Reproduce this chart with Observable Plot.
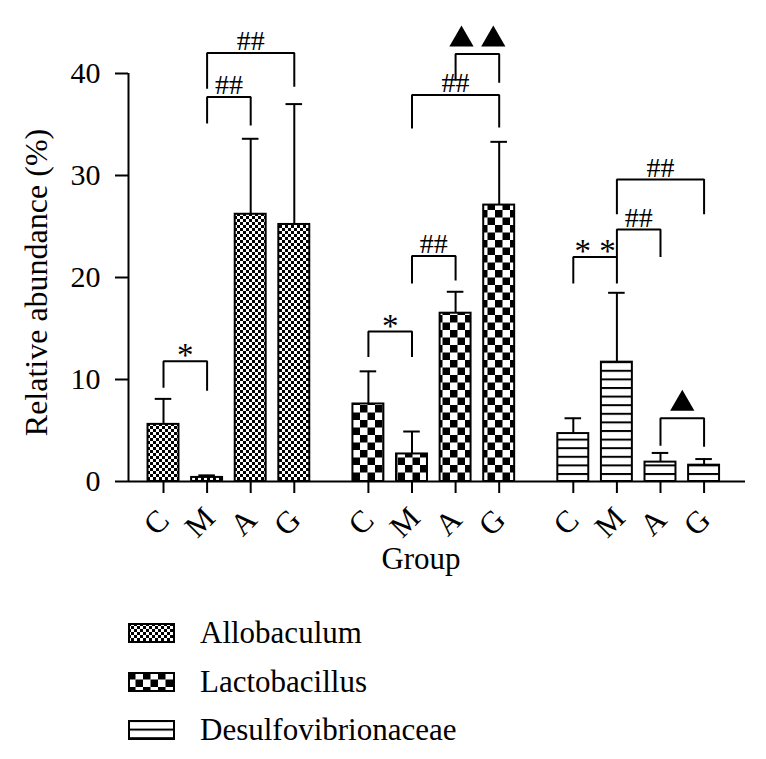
<!DOCTYPE html>
<html><head><meta charset="utf-8">
<script src="https://cdn.jsdelivr.net/npm/d3@7"></script>
<script src="https://cdn.jsdelivr.net/npm/@observablehq/plot@0.6"></script>
<style>
body{margin:0;background:#fff;font-family:"Liberation Serif",serif;}
#legend{position:relative;height:159px;width:766px;}
.sw{position:absolute;left:128px;width:47px;height:20px;}
.lt{position:absolute;left:200px;height:20px;line-height:20px;font-size:31px;color:#000;white-space:nowrap;}
</style></head><body>
<div id="chart"></div>
<div id="legend"></div>
<script>
// ---- data ----
const genera = ["Allobaculum", "Lactobacillus", "Desulfovibrionaceae"];
const groups = ["C", "M", "A", "G"];
const allobaculumMean = [5.6, 0.4, 26.2, 25.2];
const allobaculumSD = [2.5, 0.2, 7.4, 11.8];
const lactobacillusMean = [7.6, 2.7, 16.5, 27.1];
const lactobacillusSD = [3.2, 2.2, 2.1, 6.2];
const desulfoMean = [4.7, 11.7, 1.9, 1.6];
const desulfoSD = [1.5, 6.8, 0.9, 0.6];
const yTicks = [0, 10, 20, 30, 40];

// significance brackets
const bracketGenus = [0, 0, 0, 1, 1, 1, 1, 2, 2, 2, 2];
const bracketFrom = ["C", "M", "M", "C", "M", "M", "A", "C", "M", "M", "A"];
const bracketTo = ["M", "A", "G", "M", "A", "G", "G", "M", "A", "G", "G"];
const bracketTop = [11.8, 37.7, 42.0, 14.7, 22.1, 37.9, 41.9, 22.0, 24.7, 29.6, 6.2];
const bracketLeftEnd = [9.2, 35.1, 38.5, 12.2, 19.4, 34.6, 39.3, 19.4, 22.0, 26.2, 3.5];
const bracketRightEnd = [8.9, 34.9, 38.7, 12.2, 19.7, 34.7, 39.1, 19.4, 22.0, 26.2, 3.4];
const bracketLabel = ["*", "##", "##", "*", "##", "##", "▲▲", "* *", "##", "##", "▲"];

// ---- layout helpers ----
const groupStride = 4.7;
const pos = (g, i) => g * groupStride + i;
const xDomain = [-0.803, 13.35];
const means = [allobaculumMean, lactobacillusMean, desulfoMean];
const sds = [allobaculumSD, lactobacillusSD, desulfoSD];
const patIds = ["allo", "lacto", "desulfo"];

const bars = [];
genera.forEach((g, gi) => groups.forEach((grp, i) => bars.push({genus: g, gi, group: grp, pos: pos(gi, i), mean: means[gi][i], sd: sds[gi][i]})));

const brackets = bracketGenus.map((gi, k) => {
  const x1 = pos(gi, groups.indexOf(bracketFrom[k]));
  const x2 = pos(gi, groups.indexOf(bracketTo[k]));
  return {id: k, x1, x2, mid: (x1 + x2) / 2, top: bracketTop[k], l: bracketLeftEnd[k], r: bracketRightEnd[k], label: bracketLabel[k]};
});
const bracketPts = brackets.flatMap(b => [
  {id: b.id, x: b.x1, y: b.l}, {id: b.id, x: b.x1, y: b.top},
  {id: b.id, x: b.x2, y: b.top}, {id: b.id, x: b.x2, y: b.r}
]);
const triangles = brackets.filter(b => b.label.startsWith("▲")).flatMap(b => {
  const n = b.label.length;
  return d3.range(n).map(k => ({x: b.mid + (k - (n - 1) / 2) * 0.73, y: b.top}));
});

const font = "Liberation Serif";
const marks = [];
genera.forEach((g, gi) => {
  marks.push(Plot.rectY(bars.filter(d => d.gi === gi), {
    x1: d => d.pos - 0.355, x2: d => d.pos + 0.355, y1: 0, y2: "mean",
    fill: `url(#${patIds[gi]})`, stroke: "black", strokeWidth: 2
  }));
});
marks.push(
  Plot.ruleX(bars, {x: "pos", y1: "mean", y2: d => d.mean + d.sd, stroke: "black", strokeWidth: 2}),
  Plot.ruleY(bars, {y: d => d.mean + d.sd, x1: d => d.pos - 0.19, x2: d => d.pos + 0.19, stroke: "black", strokeWidth: 2}),
  Plot.line(bracketPts, {x: "x", y: "y", z: "id", stroke: "black", strokeWidth: 2, strokeLinejoin: "miter", strokeLinecap: "butt"}),
  Plot.text(brackets.filter(b => b.label === "##"), {x: "mid", y: "top", text: "label", lineAnchor: "bottom", dy: -3, fontSize: 28, fontFamily: font, fill: "black"}),
  Plot.text(brackets.filter(b => b.label.includes("*")), {x: "mid", y: "top", text: "label", lineAnchor: "bottom", dy: 5, fontSize: 33, fontFamily: font, fill: "black"}),
  Plot.dot(triangles, {x: "x", y: "y", symbol: "triangle", r: 9, fill: "black", stroke: "none", dy: -14.5}),
  Plot.ruleX([xDomain[0]], {y1: 0, y2: 40, stroke: "black", strokeWidth: 2}),
  Plot.ruleY([0], {stroke: "black", strokeWidth: 2}),
  Plot.axisY({ticks: yTicks, tickSize: 13, tickPadding: 15, fontSize: 30, fontFamily: font, strokeWidth: 2, label: null, tickFormat: d => String(d)}),
  Plot.axisX({ticks: bars.map(d => d.pos), tickSize: 12, tickFormat: () => "", strokeWidth: 2, label: null}),
  Plot.text(bars, {x: "pos", text: "group", frameAnchor: "bottom", rotate: -45, dy: 48, fontSize: 31, fontFamily: font, fill: "black"}),
  Plot.text(["Group"], {frameAnchor: "bottom", dy: 87, dx: -16, fontSize: 31, fontFamily: font, fill: "black"}),
  Plot.text(["Relative abundance (%)"], {frameAnchor: "left", textAnchor: "middle", rotate: -90, dx: -92, dy: 5, fontSize: 32, fontFamily: font, fill: "black"})
);

const chart = Plot.plot({
  width: 766, height: 600,
  marginLeft: 128, marginRight: 21, marginTop: 73, marginBottom: 119,
  x: {type: "linear", domain: xDomain},
  y: {domain: [0, 40]},
  style: {fontFamily: font, background: "white", color: "black", overflow: "visible"},
  marks
});

// patterns
const defs = d3.select(chart).insert("defs", ":first-child");
const p1 = defs.append("pattern").attr("id", "allo").attr("patternUnits", "userSpaceOnUse").attr("width", 6).attr("height", 6);
p1.append("rect").attr("width", 6).attr("height", 6).attr("fill", "white");
p1.append("rect").attr("width", 3).attr("height", 3).attr("fill", "black");
p1.append("rect").attr("x", 3).attr("y", 3).attr("width", 3).attr("height", 3).attr("fill", "black");
const p2 = defs.append("pattern").attr("id", "lacto").attr("patternUnits", "userSpaceOnUse").attr("width", 15).attr("height", 15);
p2.append("rect").attr("width", 15).attr("height", 15).attr("fill", "white");
p2.append("rect").attr("width", 7.5).attr("height", 7.5).attr("fill", "black");
p2.append("rect").attr("x", 7.5).attr("y", 7.5).attr("width", 7.5).attr("height", 7.5).attr("fill", "black");
const p3 = defs.append("pattern").attr("id", "desulfo").attr("patternUnits", "userSpaceOnUse").attr("width", 10).attr("height", 8.6);
p3.append("rect").attr("width", 10).attr("height", 8.6).attr("fill", "white");
p3.append("rect").attr("y", 0).attr("width", 10).attr("height", 2).attr("fill", "black");

document.getElementById("chart").appendChild(chart);

// legend
const legend = document.getElementById("legend");
const rowTops = [23, 72, 120];
genera.forEach((g, gi) => {
  const sw = document.createElementNS("http://www.w3.org/2000/svg", "svg");
  sw.setAttribute("class", "sw");
  sw.setAttribute("width", 47); sw.setAttribute("height", 20);
  sw.style.top = rowTops[gi] + "px";
  const r = document.createElementNS("http://www.w3.org/2000/svg", "rect");
  r.setAttribute("x", 1); r.setAttribute("y", 1); r.setAttribute("width", 45); r.setAttribute("height", 18);
  r.setAttribute("fill", `url(#${patIds[gi]})`); r.setAttribute("stroke", "black"); r.setAttribute("stroke-width", 2);
  sw.appendChild(r);
  legend.appendChild(sw);
  const t = document.createElement("div");
  t.className = "lt"; t.style.top = rowTops[gi] + "px"; t.textContent = g;
  legend.appendChild(t);
});
</script>
</body></html>
